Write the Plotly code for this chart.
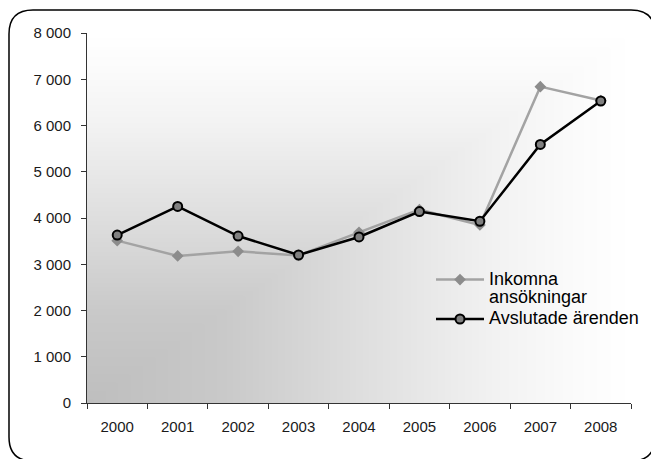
import numpy as np
import plotly.graph_objects as go

# Data
years = ["2000", "2001", "2002", "2003", "2004", "2005", "2006", "2007", "2008"]
inkomna = [3510, 3180, 3280, 3190, 3690, 4180, 3850, 6840, 6540]
avslutade = [3630, 4250, 3610, 3200, 3590, 4140, 3930, 5590, 6530]
y_ticks = [0, 1000, 2000, 3000, 4000, 5000, 6000, 7000, 8000]

W, H = 651, 459
L, R, T, B = 87, 631, 33, 403  # plot area in pixels
PR = W  # paper right edge (no right margin; the x domain ends at R)
x_domain = [0, (R - L) / (PR - L)]


def px(x, y):
    """Pixel position -> paper coordinates."""
    return (x - L) / (PR - L), (B - y) / (B - T)


# Rounded outer frame (corner curves as quadratic beziers)
x0, y0, x1, y1, r = 9, 10, 655, 461, 24
pts = [
    ("M", [(x0 + r, y0)]), ("L", [(x1 - r, y0)]), ("Q", [(x1, y0), (x1, y0 + r)]),
    ("L", [(x1, y1 - r)]), ("Q", [(x1, y1), (x1 - r, y1)]),
    ("L", [(x0 + r, y1)]), ("Q", [(x0, y1), (x0, y1 - r)]),
    ("L", [(x0, y0 + r)]), ("Q", [(x0, y0), (x0 + r, y0)]),
]
path = ""
for cmd, ps in pts:
    path += cmd + " ".join("%.5f,%.5f" % px(a, b) for a, b in ps) + " "
path += "Z"

# Background shading: rectangular "from corner" fill, dark lower-left to white
gx = np.linspace(0, 1, 120)
gy = np.linspace(0, 1, 120)
GX, GY = np.meshgrid(gx, gy)
shade = np.maximum(GX, GY)
shade_scale = [
    [0.0, "rgb(190,190,190)"], [0.25, "rgb(201,201,201)"], [0.5, "rgb(222,222,222)"],
    [0.75, "rgb(242,242,242)"], [0.9, "rgb(251,251,251)"], [1.0, "rgb(255,255,255)"],
]

fig = go.Figure()
fig.add_trace(go.Heatmap(
    x=gx, y=gy, z=shade, colorscale=shade_scale, zmin=0, zmax=1,
    zsmooth="best", showscale=False, hoverinfo="skip", showlegend=False,
    xaxis="x", yaxis="y",
))

legend_span = '<span style="font-size:18px">%s</span>'
fig.add_trace(go.Scatter(
    x=years, y=inkomna, name=legend_span % "Inkomna<br>ansökningar",
    mode="lines+markers",
    line=dict(color="#a3a3a3", width=2.5),
    marker=dict(symbol="diamond", size=9, color="#8c8c8c",
                line=dict(color="#8c8c8c", width=0)),
    xaxis="x2", yaxis="y2",
))
fig.add_trace(go.Scatter(
    x=years, y=avslutade, name=legend_span % "Avslutade ärenden",
    mode="lines+markers",
    line=dict(color="#000000", width=2.5),
    marker=dict(symbol="circle", size=9, color="#808080",
                line=dict(color="#000000", width=2)),
    xaxis="x2", yaxis="y2",
))

tick_font = dict(family="Liberation Sans, Arial, sans-serif", size=15, color="#1a1a1a")
fig.update_layout(
    width=W, height=H,
    margin=dict(l=L, r=W - PR, t=T, b=H - B, autoexpand=False),
    paper_bgcolor="white", plot_bgcolor="white",
    separators=", ",
    xaxis=dict(domain=x_domain, range=[0, 1], visible=False, fixedrange=True),
    yaxis=dict(range=[0, 1], visible=False, fixedrange=True),
    xaxis2=dict(
        overlaying="x", type="category", categoryarray=years, range=[-0.5, 8.5],
        side="bottom", showline=True, linecolor="#333333", linewidth=1,
        ticks="outside", tickson="boundaries", ticklen=5, tickcolor="#333333",
        showgrid=False, tickfont=tick_font, ticklabelstandoff=10, zeroline=False,
    ),
    yaxis2=dict(
        overlaying="y", range=[0, 8000], tickvals=y_ticks, tickformat=",d",
        side="left", showline=True, linecolor="#333333", linewidth=1,
        ticks="outside", ticklen=5, tickcolor="#333333",
        showgrid=False, zeroline=False, tickfont=tick_font, ticklabelstandoff=7,
    ),
    legend=dict(
        x=px(431, 0)[0], y=px(0, 264)[1], xanchor="left", yanchor="top",
        bgcolor="rgba(0,0,0,0)", valign="top", itemwidth=48,
        font=dict(family="Liberation Sans, Arial, sans-serif", size=14, color="#000000"),
        tracegroupgap=0,
    ),
    shapes=[dict(type="path", path=path, xref="paper", yref="paper",
                 line=dict(color="#000000", width=1.5), layer="above")],
)

fig.write_html("out.html")
